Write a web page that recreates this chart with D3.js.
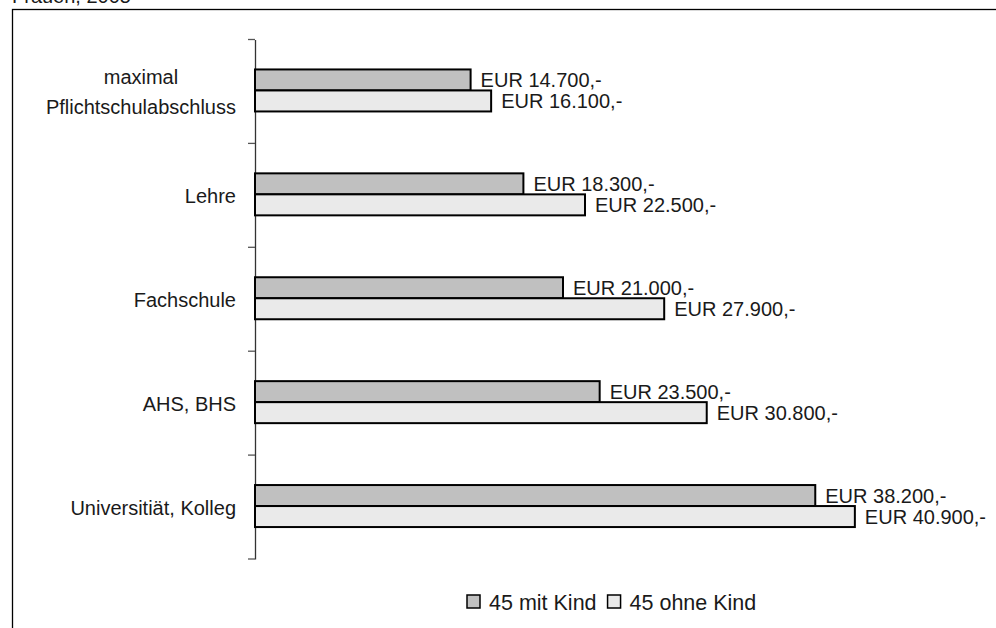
<!DOCTYPE html>
<html>
<head>
<meta charset="utf-8">
<script src="https://cdn.jsdelivr.net/npm/d3@7"></script>
<style>
  html, body { margin: 0; padding: 0; background: #fff; }
  svg { display: block; }
  text { font-family: "Liberation Sans", Arial, sans-serif; fill: #1a1a1a; }
</style>
</head>
<body>
<svg id="chart" width="996" height="628"></svg>
<script>
const title = "Frauen, 2005";
const categories = [
  ["maximal", "Pflichtschulabschluss"],
  ["Lehre"],
  ["Fachschule"],
  ["AHS, BHS"],
  ["Universitiät, Kolleg"]
];
const seriesNames = ["45 mit Kind", "45 ohne Kind"];
const seriesColors = ["#c0c0c0", "#eaeaea"];
const mitKind = [14700, 18300, 21000, 23500, 38200];
const ohneKind = [16100, 22500, 27900, 30800, 40900];
const valueLabels = [
  ["EUR 14.700,-", "EUR 18.300,-", "EUR 21.000,-", "EUR 23.500,-", "EUR 38.200,-"],
  ["EUR 16.100,-", "EUR 22.500,-", "EUR 27.900,-", "EUR 30.800,-", "EUR 40.900,-"]
];
const series = [mitKind, ohneKind];

const svg = d3.select("#chart");

// outer frame (runs off the picture at right and bottom)
svg.append("rect")
  .attr("x", 12.5).attr("y", 9.5)
  .attr("width", 1100).attr("height", 800)
  .attr("fill", "none").attr("stroke", "#000").attr("stroke-width", 1.3);

// title, clipped at the top edge as in the reference
svg.append("text")
  .attr("x", 12).attr("y", 3)
  .style("font-size", "20px")
  .text(title);

const catKeys = categories.map(c => c.join(" "));
const x = d3.scaleLinear().domain([0, 45000]).range([255, 915]);
const y0 = d3.scaleBand().domain(catKeys).range([39.5, 559]);
const bw = y0.bandwidth();
const y1 = d3.scaleBand().domain(seriesNames).range([bw / 2 - 22, bw / 2 + 20]);

// axis
const yAxis = d3.axisLeft(y0).tickSize(0).tickFormat("");
const ax = svg.append("g").attr("transform", "translate(255,0)").call(yAxis);
ax.select(".domain").attr("stroke", "#333").attr("stroke-width", 1.3);
// boundary ticks between categories
const bounds = catKeys.map(k => y0(k)).concat([y0.range()[1]]);
svg.append("g").selectAll("line").data(bounds).join("line")
  .attr("x1", 248).attr("x2", 255)
  .attr("y1", d => d).attr("y2", d => d)
  .attr("stroke", "#555").attr("stroke-width", 1.3);

// category labels
const labelRight = 236;
categories.forEach((lines, i) => {
  const cy = y0(catKeys[i]) + bw / 2;
  const g = svg.append("g");
  const n = lines.length;
  const texts = lines.map((line, j) => g.append("text")
    .attr("y", cy + (j - (n - 1) / 2) * 30 + 7.5)
    .style("font-size", "20px")
    .attr("text-anchor", "middle")
    .text(line));
  const maxW = d3.max(texts, t => t.node().getComputedTextLength());
  texts.forEach(t => t.attr("x", labelRight - maxW / 2));
});

// bars
series.forEach((vals, s) => {
  const g = svg.append("g");
  g.selectAll("rect").data(vals).join("rect")
    .attr("x", x(0))
    .attr("y", (d, i) => y0(catKeys[i]) + y1(seriesNames[s]))
    .attr("width", d => x(d) - x(0))
    .attr("height", y1.bandwidth())
    .attr("fill", seriesColors[s])
    .attr("stroke", "#000")
    .attr("stroke-width", 2);
  g.selectAll("text").data(vals).join("text")
    .attr("x", d => x(d) + 10)
    .attr("y", (d, i) => y0(catKeys[i]) + y1(seriesNames[s]) + y1.bandwidth() / 2 + 7.5)
    .style("font-size", "20px")
    .text((d, i) => valueLabels[s][i]);
});

// legend
const legend = svg.append("g");
let lx = 467;
seriesNames.forEach((name, s) => {
  legend.append("rect")
    .attr("x", lx).attr("y", 595)
    .attr("width", 13).attr("height", 13)
    .attr("fill", seriesColors[s]).attr("stroke", "#000").attr("stroke-width", 1.5);
  const t = legend.append("text")
    .attr("x", lx + 22).attr("y", 610)
    .style("font-size", "21.5px")
    .text(name);
  lx += 22 + t.node().getComputedTextLength() + 11;
});
</script>
</body>
</html>
